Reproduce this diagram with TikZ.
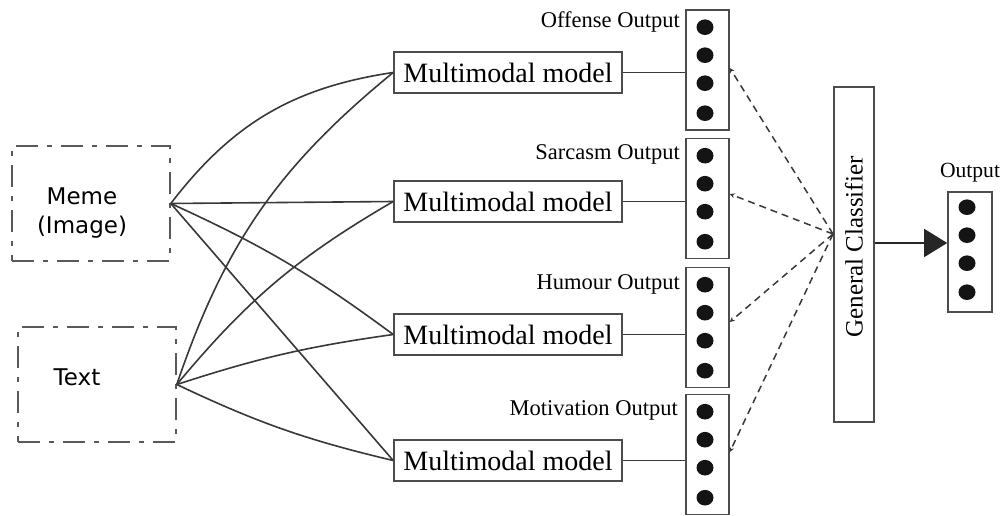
\documentclass[tikz,border=0pt]{standalone}
\usepackage{fontspec}
\setmainfont{Liberation Serif}
\newfontfamily\dejavu{DejaVu Sans}
\usetikzlibrary{arrows.meta,calc}
\begin{document}
\begin{tikzpicture}[x=1pt,y=-1pt,
  conn/.style={draw=black!78, line width=1.6pt},
  inbox/.style={draw=black!65, line width=1.6pt, dash pattern=on 22pt off 9pt on 5pt off 9pt, minimum width=158pt, minimum height=115pt, inner sep=0pt},
  intext/.style={font=\dejavu\fontsize{23}{29}\selectfont, align=center, inner sep=0pt},
  mm/.style={draw=black!70, line width=1.6pt, minimum width=228pt, minimum height=41pt, inner sep=0pt, font=\fontsize{28}{30}\selectfont},
  col/.style={draw=black!70, line width=1.6pt, minimum width=43pt, minimum height=120pt, inner sep=0pt},
  lbl/.style={font=\fontsize{22.5}{24}\selectfont, anchor=east, inner sep=0pt},
  dsh/.style={draw=black!78, line width=1.5pt, dash pattern=on 7pt off 5pt, -{Stealth[length=5pt,width=5pt]}},
  dotfill/.style={fill=black!92}
]
\useasboundingbox (0,0) rectangle (1003,516);

% input boxes
\node[inbox] (meme) at (91,203.5) {};
\node[intext] (memetxt) at (82,213) {Meme\\(Image)};
\node[inbox] (text) at (97,384.5) {};
\node[intext] (texttxt) at (77,377) {Text};

% multimodal models
\node[mm] (m1) at (508,72.5) {Multimodal model};
\node[mm] (m2) at (508,201.5) {Multimodal model};
\node[mm] (m3) at (508,334.5) {Multimodal model};
\node[mm] (m4) at (508,460.5) {Multimodal model};

% output columns
\node[col] (c1) at (707.5,70) {};
\node[col] (c2) at (707.5,198.5) {};
\node[col] (c3) at (707.5,327.5) {};
\node[col] (c4) at (707.5,454.5) {};
\foreach \c in {1,2,3,4}{
  \foreach \o in {18,46,74,104}{
    \fill[dotfill] ($(c\c.north)+(-2.5,\o)$) ellipse[x radius=8.5pt, y radius=7.8pt];
  }
}
\node[lbl] (l1) at (680,22) {Offense Output};
\node[lbl] (l2) at (680,154) {Sarcasm Output};
\node[lbl] (l3) at (680,284) {Humour Output};
\node[lbl] (l4) at (678,410) {Motivation Output};

% general classifier
\node[draw=black!70, line width=1.6pt, minimum width=40pt, minimum height=335pt, inner sep=0pt] (gc) at (854,254.5) {};
\node[rotate=90, font=\fontsize{25}{27}\selectfont, inner sep=0pt] (gctxt) at (854,247) {General Classifier};
\coordinate (gcin) at (833,234);

% final output
\node[col, minimum width=44pt] (out) at (970,252) {};
\foreach \o in {16,44,72,101}{
  \fill[dotfill] ($(out.north)+(-3,\o)$) ellipse[x radius=8.5pt, y radius=7.8pt];
}
\node[font=\fontsize{21.6}{24}\selectfont, inner sep=0pt] (outlbl) at (970,173) {Output};

% connections from inputs
\draw[conn] (meme.east) to[bend left=22] (m1.west);
\draw[conn] (meme.east) -- (m2.west);
\draw[conn] (meme.east) to[bend left=6] (m3.west);
\draw[conn] (meme.east) -- (m4.west);
\draw[conn] (text.east) to[bend left=16] (m1.west);
\draw[conn] (text.east) to[bend left=10] (m2.west);
\draw[conn] (text.east) to[bend left=5] (m3.west);
\draw[conn] (text.east) to[bend right=6] (m4.west);

% models to columns
\draw[conn] (m1.east) -- (m1.east -| c1.west);
\draw[conn] (m2.east) -- (m2.east -| c2.west);
\draw[conn] (m3.east) -- (m3.east -| c3.west);
\draw[conn] (m4.east) -- (m4.east -| c4.west);

% dashed to classifier
\draw[dsh] (gcin) -- ($(c1.east)+(0,-2)$);
\draw[dsh] (gcin) -- ($(c2.east)+(0,-4.5)$);
\draw[dsh] (gcin) -- ($(c3.east)+(0,-5.5)$);
\draw[dsh] (gcin) -- ($(c4.east)+(0,-2.5)$);

% arrow to output
\draw[draw=black!85, line width=1.6pt, -{Triangle[length=23pt,width=28pt]}] (gc.east |- 0,243) -- (out.west |- 0,243);
\end{tikzpicture}
\end{document}
